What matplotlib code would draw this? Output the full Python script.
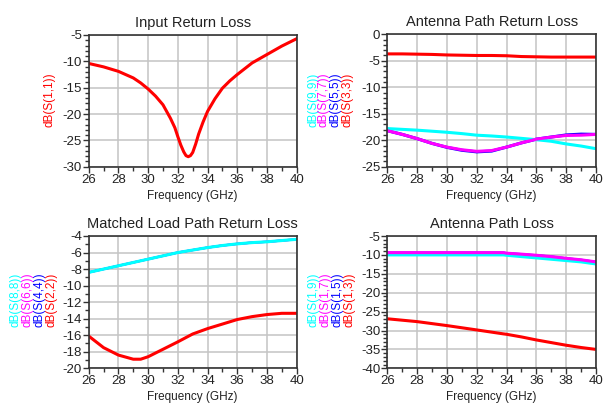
import matplotlib
matplotlib.use("Agg")
import matplotlib.pyplot as plt
from matplotlib.ticker import MultipleLocator

plt.rcParams['font.family'] = ['Liberation Sans', 'DejaVu Sans']
plt.rcParams['axes.unicode_minus'] = False

# ---------------- data ----------------
# Input Return Loss
f11 = [26, 27, 28, 29, 29.5, 30, 30.5, 31, 31.5, 31.8, 32, 32.2, 32.4, 32.55, 32.7,
       32.85, 33, 33.2, 33.4, 33.7, 34, 34.5, 35, 35.5, 36, 37, 38, 39, 40]
s11 = [-10.4, -11.05, -11.9, -13.15, -14.1, -15.25, -16.6, -18.25, -20.8, -22.6, -24.3,
       -25.9, -27.2, -27.9, -28.1, -27.9, -27.3, -25.7, -23.8, -21.5, -19.5, -17.1,
       -15.1, -13.7, -12.5, -10.3, -8.7, -7.1, -5.7]

# Antenna Path Return Loss
f_ap = [26, 27, 28, 29, 30, 31, 32, 33, 34, 35, 36, 37, 38, 39, 40]
s33 = [-3.7, -3.7, -3.75, -3.8, -3.9, -3.95, -4.0, -4.0, -4.05, -4.2, -4.25, -4.3, -4.3, -4.3, -4.3]
s55 = [-18.2, -18.9, -19.7, -20.6, -21.35, -21.9, -22.2, -22.05, -21.3, -20.5, -19.8, -19.4, -19.0, -18.85, -18.9]
s77 = [-18.2, -18.9, -19.7, -20.6, -21.3, -21.8, -22.1, -21.95, -21.3, -20.5, -19.8, -19.4, -19.1, -19.05, -18.9]
s99 = [-17.8, -17.95, -18.1, -18.3, -18.5, -18.75, -19.05, -19.2, -19.4, -19.65, -19.9, -20.2, -20.7, -21.1, -21.6]

# Matched Load Path Return Loss
f_ml = [26, 27, 28, 29, 29.5, 30, 31, 32, 33, 34, 35, 36, 37, 38, 39, 40]
s22 = [-16.1, -17.5, -18.4, -18.9, -18.9, -18.6, -17.7, -16.8, -15.85, -15.2, -14.65, -14.1,
       -13.75, -13.5, -13.35, -13.35]
s44 = [-8.4, -8.0, -7.6, -7.2, -7.0, -6.8, -6.4, -6.0, -5.7, -5.4, -5.15, -4.95, -4.8, -4.7, -4.55, -4.4]
s66 = s44
s88 = s44

# Antenna Path Loss
f_pl = [26, 28, 30, 32, 33.8, 34, 35, 36, 37, 38, 39, 40]
s13 = [-26.9, -27.65, -28.7, -29.85, -30.9, -31.0, -31.7, -32.5, -33.2, -33.9, -34.5, -35.0]
s15 = [-9.4, -9.4, -9.4, -9.4, -9.4, -9.55, -9.8, -10.1, -10.45, -10.9, -11.3, -11.85]
s17 = [-9.4, -9.4, -9.4, -9.4, -9.4, -9.55, -9.8, -10.1, -10.45, -10.9, -11.3, -11.85]
s19 = [-10.0, -10.0, -10.0, -10.0, -10.0, -10.1, -10.45, -10.8, -11.15, -11.5, -11.85, -12.4]

titles = ["Input Return Loss", "Antenna Path Return Loss",
          "Matched Load Path Return Loss", "Antenna Path Loss"]
xlabel = "Frequency (GHz)"

RED, BLUE, MAG, CYAN = "#ff0000", "#0000ff", "#ff00ff", "#00ffff"

W, H = 603, 407
fig = plt.figure(figsize=(W / 100, H / 100), dpi=100)


def make_ax(l, r, t, b):
    return fig.add_axes([l / W, 1 - b / H, (r - l) / W, (b - t) / H])


def style(ax, ylim, ymaj, ymin, title):
    ax.set_xlim(26, 40)
    ax.set_ylim(*ylim)
    ax.xaxis.set_major_locator(MultipleLocator(2))
    ax.xaxis.set_minor_locator(MultipleLocator(1))
    ax.yaxis.set_major_locator(MultipleLocator(ymaj))
    ax.yaxis.set_minor_locator(MultipleLocator(ymin))
    ax.grid(True, which='major', color='#c4c4c4', lw=1.1)
    ax.set_axisbelow(True)
    for s in ax.spines.values():
        s.set_color('#333333')
        s.set_linewidth(1.2)
    ax.tick_params(which='major', direction='out', length=4, width=1, pad=1,
                   labelsize=9.5, colors='#333333', labelcolor='#222222')
    ax.tick_params(which='minor', direction='out', length=3, width=1, colors='#333333')
    ax.tick_params(top=False, right=False, which='both')
    ax.set_title(title, fontsize=10.5, pad=6, color='#222222')
    ax.set_xlabel(xlabel, fontsize=8.5, labelpad=3, color='#222222')


lw = 2.2
lw_hidden = 1.6

# Top-left
ax1 = make_ax(88.7, 296.7, 35, 166.7)
ax1.plot(f11, s11, color=RED, lw=lw, solid_joinstyle='round')
style(ax1, (-30, -5), 5, 1, titles[0])
fig.text(50 / W, 1 - 100 / H, "dB(S(1,1))", rotation=90, color=RED,
         ha='center', va='center', fontsize=8.5)

# Top-right
ax2 = make_ax(387.3, 596, 34.3, 166.7)
ax2.plot(f_ap, s33, color=RED, lw=lw)
ax2.plot(f_ap, s55, color=BLUE, lw=lw)
ax2.plot(f_ap, s99, color=CYAN, lw=lw)
ax2.plot(f_ap, s77, color=MAG, lw=lw)
style(ax2, (-25, 0), 5, 1, titles[1])
for x, txt, c in [(313, "dB(S(9,9))", CYAN), (324, "dB(S(7,7))", MAG),
                  (336, "dB(S(5,5))", BLUE), (347, "dB(S(3,3))", RED)]:
    fig.text(x / W, 1 - 100 / H, txt, rotation=90, color=c, ha='center',
             va='center', fontsize=8.5)

# Bottom-left
ax3 = make_ax(88.7, 296.7, 236, 368.3)
ax3.plot(f_ml, s22, color=RED, lw=lw)
ax3.plot(f_ml, s44, color=BLUE, lw=lw_hidden)
ax3.plot(f_ml, s66, color=MAG, lw=lw_hidden)
ax3.plot(f_ml, s88, color=CYAN, lw=lw)
style(ax3, (-20, -4), 2, 1, titles[2])
for x, txt, c in [(15, "dB(S(8,8))", CYAN), (28, "dB(S(6,6))", MAG),
                  (40, "dB(S(4,4))", BLUE), (52, "dB(S(2,2))", RED)]:
    fig.text(x / W, 1 - 300 / H, txt, rotation=90, color=c, ha='center',
             va='center', fontsize=8.5)

# Bottom-right
ax4 = make_ax(387.3, 596, 236, 368.3)
ax4.plot(f_pl, s13, color=RED, lw=lw)
ax4.plot(f_pl, s15, color=BLUE, lw=lw_hidden)
ax4.plot(f_pl, s19, color=CYAN, lw=lw)
ax4.plot(f_pl, s17, color=MAG, lw=lw)
style(ax4, (-40, -5), 5, 1, titles[3])
for x, txt, c in [(313, "dB(S(1,9))", CYAN), (325, "dB(S(1,7))", MAG),
                  (337, "dB(S(1,5))", BLUE), (349, "dB(S(1,3))", RED)]:
    fig.text(x / W, 1 - 300 / H, txt, rotation=90, color=c, ha='center',
             va='center', fontsize=8.5)

fig.savefig("out.png", dpi=100, facecolor='white')
